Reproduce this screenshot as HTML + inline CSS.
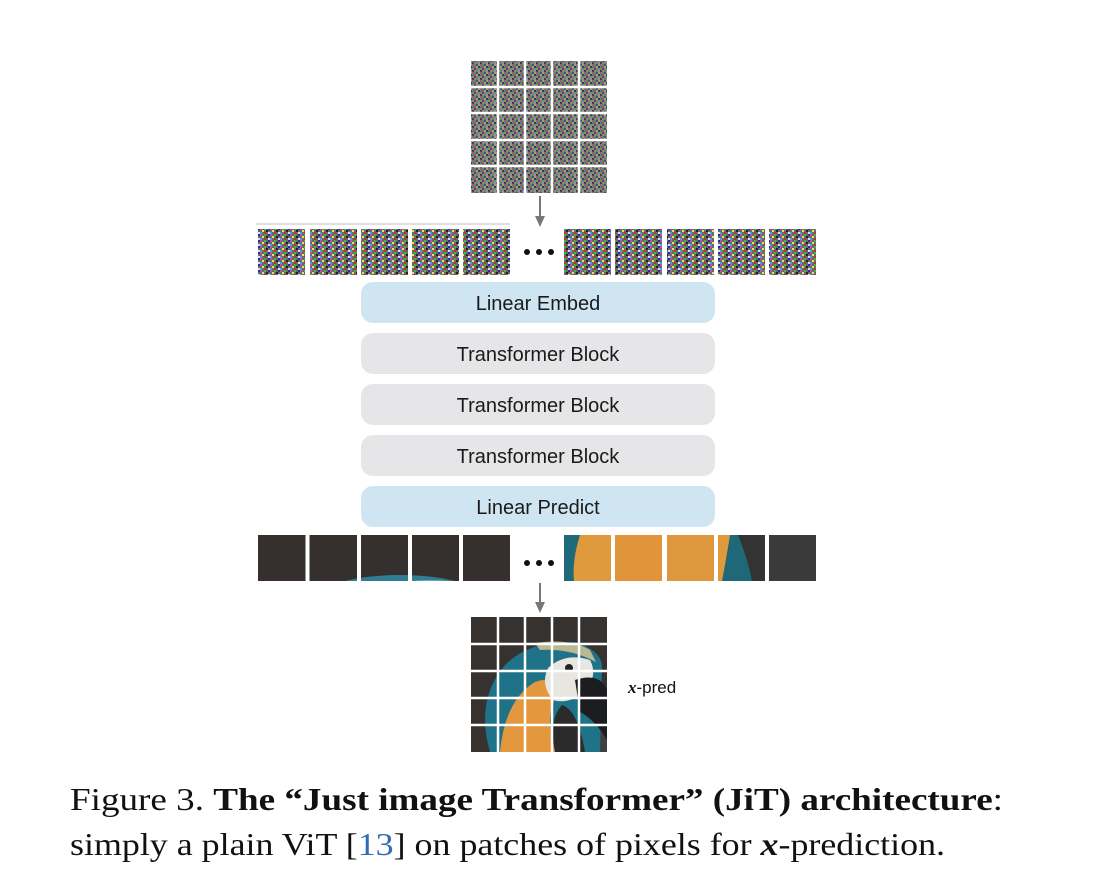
<!DOCTYPE html>
<html><head><meta charset="utf-8"><style>
html,body{margin:0;padding:0;background:#fff;width:1112px;height:884px;overflow:hidden}
svg{display:block}
</style></head><body>
<svg width="1112" height="884" viewBox="0 0 1112 884" xmlns="http://www.w3.org/2000/svg">
<defs>
<pattern id="nz" width="8" height="8" patternUnits="userSpaceOnUse">
<rect width="8" height="8" fill="#6f6a72"/>
<rect x="0" y="0" width="2" height="2" fill="#a0607a"/><rect x="2" y="0" width="2" height="2" fill="#5a8a60"/><rect x="4" y="0" width="2" height="2" fill="#4a4f7a"/><rect x="6" y="0" width="2" height="2" fill="#a8a070"/>
<rect x="0" y="2" width="2" height="2" fill="#4d7f90"/><rect x="2" y="2" width="2" height="2" fill="#905a50"/><rect x="4" y="2" width="2" height="2" fill="#8fb080"/><rect x="6" y="2" width="2" height="2" fill="#3a3a45"/>
<rect x="0" y="4" width="2" height="2" fill="#8a8a5a"/><rect x="2" y="4" width="2" height="2" fill="#5a4a70"/><rect x="4" y="4" width="2" height="2" fill="#a07a6a"/><rect x="6" y="4" width="2" height="2" fill="#60909a"/>
<rect x="0" y="6" width="2" height="2" fill="#404050"/><rect x="2" y="6" width="2" height="2" fill="#a07a98"/><rect x="4" y="6" width="2" height="2" fill="#6f8a5a"/><rect x="6" y="6" width="2" height="2" fill="#9090a8"/>
</pattern>
<pattern id="nz2" width="10" height="6" patternUnits="userSpaceOnUse">
<rect width="10" height="6" fill="#6a6a6a"/>
<rect x="0" y="0" width="2" height="2" fill="#d04aa0"/><rect x="4" y="0" width="2" height="2" fill="#30c040"/><rect x="8" y="0" width="2" height="2" fill="#2030a0"/>
<rect x="2" y="2" width="2" height="2" fill="#f0e060"/><rect x="6" y="2" width="2" height="2" fill="#202020"/>
<rect x="0" y="4" width="2" height="2" fill="#40a0e0"/><rect x="4" y="4" width="2" height="2" fill="#c03030"/><rect x="8" y="4" width="2" height="2" fill="#e0e0e0"/>
</pattern>
<clipPath id="gclip"><rect x="471" y="617" width="136" height="135"/></clipPath>
<clipPath id="lclip"><rect x="258" y="535" width="252" height="46"/></clipPath>
</defs>

<rect x="471" y="61" width="136" height="132" fill="url(#nz)"/>
<g stroke="#fff" stroke-width="2.5">
<line x1="498" y1="61" x2="498" y2="193"/><line x1="525" y1="61" x2="525" y2="193"/><line x1="552" y1="61" x2="552" y2="193"/><line x1="579" y1="61" x2="579" y2="193"/>
<line x1="471" y1="87" x2="607" y2="87"/><line x1="471" y1="113" x2="607" y2="113"/><line x1="471" y1="140" x2="607" y2="140"/><line x1="471" y1="166" x2="607" y2="166"/>
</g>
<line x1="540" y1="196" x2="540" y2="219" stroke="#777" stroke-width="2"/>
<polygon points="535,216 545,216 540,227" fill="#777"/>
<line x1="256" y1="224" x2="510" y2="224" stroke="#c8b8c8" stroke-width="1"/>
<g fill="url(#nz2)">
<rect x="258" y="229" width="47" height="46"/><rect x="310" y="229" width="47" height="46"/><rect x="361" y="229" width="47" height="46"/><rect x="412" y="229" width="47" height="46"/><rect x="463" y="229" width="47" height="46"/>
<rect x="564" y="229" width="47" height="46"/><rect x="615" y="229" width="47" height="46"/><rect x="667" y="229" width="47" height="46"/><rect x="718" y="229" width="47" height="46"/><rect x="769" y="229" width="47" height="46"/>
</g>
<g fill="#111"><circle cx="527" cy="252" r="3"/><circle cx="539" cy="252" r="3"/><circle cx="551" cy="252" r="3"/></g>

<g font-family="Liberation Sans, sans-serif" font-size="20" text-anchor="middle" fill="#1a1a1a">
<rect x="361" y="282" width="354" height="41" rx="12" fill="#cfe6f2"/>
<text x="538" y="310">Linear Embed</text>
<rect x="361" y="333" width="354" height="41" rx="12" fill="#e6e6e8"/>
<text x="538" y="361">Transformer Block</text>
<rect x="361" y="384" width="354" height="41" rx="12" fill="#e6e6e8"/>
<text x="538" y="412">Transformer Block</text>
<rect x="361" y="435" width="354" height="41" rx="12" fill="#e6e6e8"/>
<text x="538" y="463">Transformer Block</text>
<rect x="361" y="486" width="354" height="41" rx="12" fill="#cfe6f2"/>
<text x="538" y="514">Linear Predict</text>
</g>

<g clip-path="url(#lclip)">
<rect x="258" y="535" width="252" height="46" fill="#35302d"/>
<ellipse cx="400" cy="600" rx="85" ry="25" fill="#2f7d93"/>
<ellipse cx="430" cy="602" rx="60" ry="22" fill="#78aab8"/>
<ellipse cx="470" cy="606" rx="40" ry="22" fill="#c9c8a0"/>
</g>
<rect x="564" y="535" width="47" height="46" fill="#e09a3e"/>
<path d="M564 535 L580 535 Q572 560 574 581 L564 581Z" fill="#1f6a78"/>
<rect x="615" y="535" width="47" height="46" fill="#e0953a"/>
<rect x="667" y="535" width="47" height="46" fill="#de973c"/>
<rect x="718" y="535" width="47" height="46" fill="#333"/>
<path d="M718 535 L738 535 Q748 560 752 581 L718 581Z" fill="#1f6878"/>
<path d="M718 535 L730 535 Q726 560 722 581 L718 581Z" fill="#e09a3e"/>
<rect x="769" y="535" width="47" height="46" fill="#3a3a3a"/>
<g stroke="#fff" stroke-width="4">
<line x1="307.5" y1="535" x2="307.5" y2="581"/><line x1="359" y1="535" x2="359" y2="581"/><line x1="410" y1="535" x2="410" y2="581"/><line x1="461" y1="535" x2="461" y2="581"/>
</g>
<g fill="#111"><circle cx="527" cy="563" r="3"/><circle cx="539" cy="563" r="3"/><circle cx="551" cy="563" r="3"/></g>
<line x1="540" y1="583" x2="540" y2="605" stroke="#777" stroke-width="2"/>
<polygon points="535,602 545,602 540,613" fill="#777"/>

<g clip-path="url(#gclip)">
<rect x="471" y="617" width="136" height="135" fill="#353230"/>
<rect x="580" y="690" width="27" height="62" fill="#404040"/>
<path d="M490 752 Q475 700 505 665 Q530 640 575 642 Q600 650 602 665 L600 752Z" fill="#1f7388"/>
<path d="M535 643 Q570 638 590 650 L596 662 Q570 648 540 650Z" fill="#b9b890"/>
<path d="M500 752 Q505 700 535 682 Q555 675 560 690 Q540 720 560 752Z" fill="#e3983e"/>
<path d="M548 668 Q565 652 590 660 Q598 675 586 690 Q570 705 553 700 Q540 685 548 668Z" fill="#e8e6e0"/>
<path d="M575 680 Q600 672 607 690 L607 740 Q595 720 580 712Z" fill="#1c1d20"/>
<circle cx="569" cy="668" r="4" fill="#222"/>
<path d="M555 752 Q548 720 562 705 Q578 710 585 752Z" fill="#2b2b2b"/>
</g>
<g stroke="#fff" stroke-width="2.5">
<line x1="498" y1="617" x2="498" y2="752"/><line x1="525" y1="617" x2="525" y2="752"/><line x1="552" y1="617" x2="552" y2="752"/><line x1="579" y1="617" x2="579" y2="752"/>
<line x1="471" y1="644" x2="607" y2="644"/><line x1="471" y1="671" x2="607" y2="671"/><line x1="471" y1="698" x2="607" y2="698"/><line x1="471" y1="725" x2="607" y2="725"/>
</g>
<text x="628" y="693" font-family="Liberation Sans, sans-serif" font-size="17" fill="#111"><tspan font-family="Liberation Serif, serif" font-style="italic" font-weight="bold">x</tspan>-pred</text>

<g font-family="Liberation Serif, serif" font-size="32" fill="#111">
<text x="70" y="810" textLength="933" lengthAdjust="spacingAndGlyphs">Figure 3.  <tspan font-weight="bold">The “Just image Transformer” (JiT) architecture</tspan>:</text>
<text x="70" y="855" textLength="875" lengthAdjust="spacingAndGlyphs">simply a plain ViT [<tspan fill="#2e6db4">13</tspan>] on patches of pixels for <tspan font-style="italic" font-weight="bold">x</tspan>-prediction.</text>
</g>
</svg>
</body></html>
